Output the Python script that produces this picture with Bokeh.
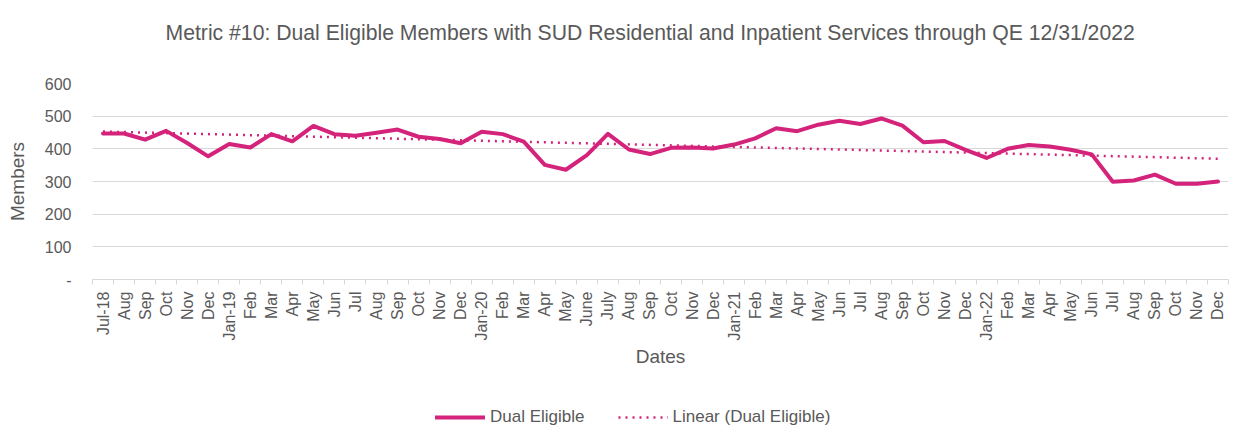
import math
import numpy as np
from bokeh.plotting import figure
from bokeh.layouts import column
from bokeh.models import Range1d, FixedTicker, Legend, LegendItem, Label
from bokeh.embed import file_html
from bokeh.resources import INLINE

# ---- data ----
month_labels = ["Jul-18", "Aug", "Sep", "Oct", "Nov", "Dec",
                "Jan-19", "Feb", "Mar", "Apr", "May", "Jun", "Jul", "Aug", "Sep", "Oct", "Nov", "Dec",
                "Jan-20", "Feb", "Mar", "Apr", "May", "June", "July", "Aug", "Sep", "Oct", "Nov", "Dec",
                "Jan-21", "Feb", "Mar", "Apr", "May", "Jun", "Jul", "Aug", "Sep", "Oct", "Nov", "Dec",
                "Jan-22", "Feb", "Mar", "Apr", "May", "Jun", "Jul", "Aug", "Sep", "Oct", "Nov", "Dec"]
dual_eligible = [447, 447, 428, 455, 418, 377,
                 415, 404, 445, 423, 470, 445, 440, 449, 459, 437, 430, 417,
                 452, 445, 422, 351, 336, 381, 446, 398, 384, 403, 404, 401,
                 413, 432, 463, 454, 474, 486, 476, 493, 471, 420, 424, 397,
                 372, 400, 412, 407, 397, 383, 299, 303, 321, 293, 293, 300]
y_ticks = [0, 100, 200, 300, 400, 500, 600]
y_tick_labels = ["-", "100", "200", "300", "400", "500", "600"]
title_text = "Metric #10: Dual Eligible Members with SUD Residential and Inpatient Services through QE 12/31/2022"
series_names = ["Dual Eligible", "Linear (Dual Eligible)"]

TEXT = "#595959"
GRID = "#D9D9D9"
PINK = "#D4237A"
FONT = "Liberation Sans"

x = list(range(len(dual_eligible)))
slope, intercept = np.polyfit(x, dual_eligible, 1)
trend_x = [x[0], x[-1]]
trend_y = [intercept + slope * xx for xx in trend_x]

W = 1251
TITLE_H = 50
MAIN_H = 325
LEG_H = 441 - TITLE_H - MAIN_H
FRAME_TOP, FRAME_BOTTOM = 83, 279


def strip(height):
    f = figure(width=W, height=height, output_backend="svg", toolbar_location=None,
               x_range=Range1d(0, 1), y_range=Range1d(0, 1),
               min_border_left=0, min_border_right=0, min_border_top=0, min_border_bottom=0)
    f.axis.visible = False
    f.grid.visible = False
    f.outline_line_color = None
    f.title = None
    return f


# ---- title strip ----
pt = strip(TITLE_H)
pt.add_layout(Label(x=73, y=TITLE_H - 32, x_units="screen", y_units="screen", text=title_text,
                    text_font=FONT, text_font_size="21.2px", text_color=TEXT,
                    text_baseline="middle", text_align="left"))

# ---- main chart ----
p = figure(width=W, height=MAIN_H, output_backend="svg", toolbar_location=None,
           x_range=Range1d(-0.5, len(x) - 0.5), y_range=Range1d(0, 600),
           min_border_left=92, min_border_right=23,
           min_border_top=FRAME_TOP - TITLE_H,
           min_border_bottom=MAIN_H - (FRAME_BOTTOM - TITLE_H))
p.title = None
p.outline_line_color = None
p.background_fill_color = "white"
p.border_fill_color = "white"

# y axis
p.yaxis.ticker = FixedTicker(ticks=y_ticks)
p.yaxis.major_label_overrides = {t: l for t, l in zip(y_ticks, y_tick_labels)}
p.yaxis.axis_line_color = None
p.yaxis.major_tick_line_color = None
p.yaxis.minor_tick_line_color = None
p.yaxis.major_tick_out = 0
p.yaxis.major_tick_in = 0
p.yaxis.major_label_standoff = 21
p.yaxis.major_label_text_font = FONT
p.yaxis.major_label_text_font_size = "16px"
p.yaxis.major_label_text_color = TEXT
p.yaxis.axis_label = "Members"
p.yaxis.axis_label_text_font = FONT
p.yaxis.axis_label_text_font_size = "19px"
p.yaxis.axis_label_text_font_style = "normal"
p.yaxis.axis_label_text_color = TEXT
p.yaxis.axis_label_standoff = 14

# x axis (bottom)
p.xaxis.ticker = FixedTicker(ticks=x, minor_ticks=[i - 0.5 for i in range(len(x) + 1)])
p.xaxis.major_label_overrides = {i: l for i, l in zip(x, month_labels)}
p.xaxis.major_label_orientation = math.pi / 2
p.xaxis.axis_line_color = GRID
p.xaxis.major_tick_line_color = None
p.xaxis.major_tick_out = 0
p.xaxis.major_tick_in = 0
p.xaxis.minor_tick_line_color = GRID
p.xaxis.minor_tick_out = 5
p.xaxis.minor_tick_in = 0
p.xaxis.major_label_standoff = 7
p.xaxis.major_label_text_font = FONT
p.xaxis.major_label_text_font_size = "16px"
p.xaxis.major_label_text_color = TEXT
p.xaxis.axis_label = "Dates"
p.xaxis.axis_label_text_font = FONT
p.xaxis.axis_label_text_font_size = "19px"
p.xaxis.axis_label_text_font_style = "normal"
p.xaxis.axis_label_text_color = TEXT
p.xaxis.axis_label_standoff = 3

p.xgrid.grid_line_color = None
p.ygrid.grid_line_color = GRID
p.ygrid.ticker = FixedTicker(ticks=y_ticks)

line_style = dict(line_color=PINK, line_width=4, line_join="round", line_cap="round")
trend_style = dict(line_color=PINK, line_width=2.5, line_dash="2 5")
p.line(x, dual_eligible, **line_style)
p.line(trend_x, trend_y, **trend_style)

# ---- legend strip (keys reuse the series; the strip's ranges keep the lines themselves out of view) ----
pl = strip(LEG_H)
k1 = pl.line(x, dual_eligible, **line_style)
k2 = pl.line(trend_x, trend_y, **trend_style)
legend = Legend(items=[LegendItem(label=series_names[0], renderers=[k1]),
                       LegendItem(label=series_names[1], renderers=[k2])],
                orientation="horizontal", location=(343, 14),
                border_line_color=None, background_fill_alpha=0,
                label_text_font=FONT, label_text_font_size="17px", label_text_color=TEXT,
                glyph_width=50, label_standoff=5, spacing=33, padding=0, margin=0)
pl.add_layout(legend, "center")

layout = column(pt, p, pl, spacing=0)
open("out.html", "w").write(file_html(layout, INLINE))
